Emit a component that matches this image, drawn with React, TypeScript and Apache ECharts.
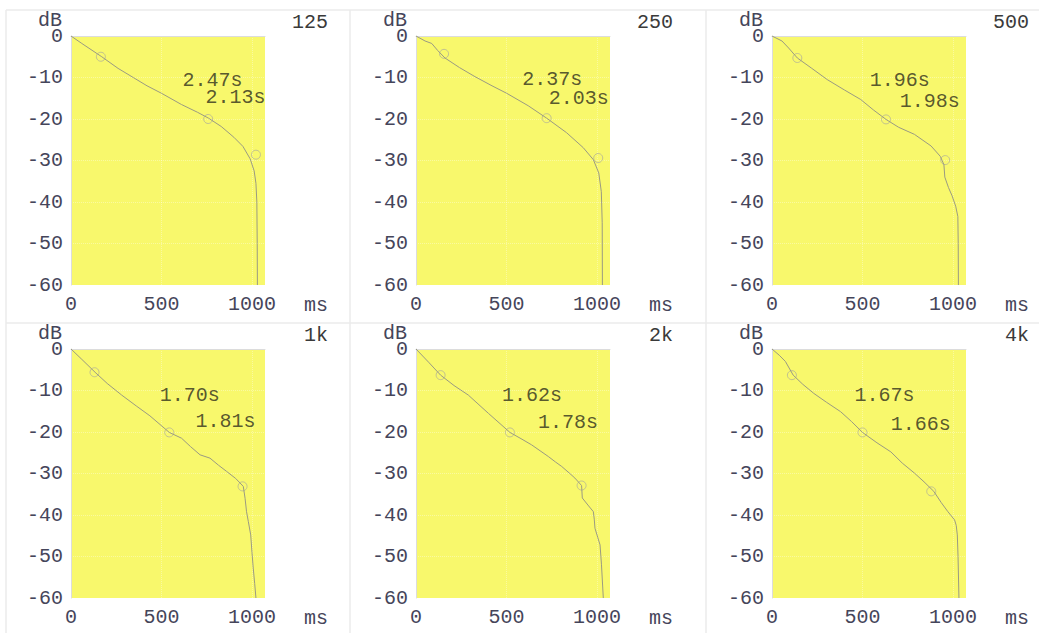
import React, { useEffect, useRef } from "react";
import * as echarts from "echarts";

const bandNames = ["125", "250", "500", "1k", "2k", "4k"];

const curve125 = [[0,0],[60,-1.8],[170,-5],[260,-7.8],[344,-10],[420,-12],[500,-13.8],[610,-16.5],[700,-18.4],[760,-19.8],[830,-21.8],[900,-24.4],[950,-26.6],[990,-29.6],[1012,-32.5],[1022,-35.5],[1027,-40],[1029,-50],[1030,-60]];
const curve250 = [[0,0],[50,-1.2],[87,-1.8],[120,-3.5],[160,-5.3],[240,-7.6],[326,-9.8],[420,-12],[501,-13.8],[620,-16.8],[722,-19.8],[832,-23.3],[924,-26.9],[980,-29.8],[1010,-33],[1024,-37.5],[1029,-45],[1030,-60]];
const curve500 = [[0,0],[55,-1.2],[92,-2.9],[140,-5.3],[220,-7.8],[305,-10.5],[400,-13],[490,-15.3],[560,-17.8],[630,-20.1],[700,-22],[787,-23.7],[879,-26.5],[930,-29],[950,-31],[955,-34],[975,-36.5],[995,-38.5],[1015,-41],[1027,-43.5],[1029,-50],[1030,-60]];
const curve1k = [[0,0],[60,-2.5],[133,-5.6],[200,-8.3],[280,-11.1],[360,-13.7],[436,-16.1],[543,-20.1],[611,-21.5],[660,-23.5],[713,-25.5],[768,-26.3],[815,-28],[860,-29.5],[910,-31.2],[952,-33.1],[962,-36],[970,-39.2],[980,-41.6],[993,-44.8],[1000,-49],[1007,-52.8],[1015,-56.5],[1022,-60]];
const curve2k = [[0,0],[70,-3.2],[136,-6.3],[210,-8.8],[289,-11.1],[400,-15.5],[519,-20.1],[580,-21.6],[639,-23.1],[731,-25.9],[770,-27.2],[805,-28.3],[850,-30],[878,-31.1],[915,-32.9],[919,-35.9],[950,-37.6],[980,-39.2],[985,-41],[989,-43.2],[1005,-45.5],[1017,-47.2],[1025,-52],[1035,-60]];
const curve4k = [[0,0],[40,-1.5],[74,-3],[117,-6.3],[170,-8.5],[231,-10.7],[300,-12.8],[379,-15.1],[440,-17.5],[500,-20.1],[580,-22.6],[657,-24.8],[720,-27.5],[787,-29.9],[840,-32],[894,-34.3],[935,-37],[972,-39.2],[1009,-41.2],[1018,-42.5],[1024,-44.8],[1028,-50],[1033,-60]];

const markers125 = [[165,-5],[758,-20],[1022,-28.6]];
const markers250 = [[155,-4.3],[722,-19.8],[1007,-29.4]];
const markers500 = [[140,-5.3],[630,-20.1],[957,-29.9]];
const markers1k = [[130,-5.6],[543,-20.1],[948,-33.1]];
const markers2k = [[136,-6.3],[519,-20.1],[915,-32.9]];
const markers4k = [[110,-6.3],[500,-20.1],[880,-34.3]];

// [text, ms, dB] anchors (left edge, vertical middle)
const labels125 = [["2.47s", 613, -10.7], ["2.13s", 740, -14.8]];
const labels250 = [["2.37s", 584, -10.6], ["2.03s", 731, -15.0]];
const labels500 = [["1.96s", 537, -10.7], ["1.98s", 703, -15.7]];
const labels1k = [["1.70s", 488, -11.2], ["1.81s", 685, -17.5]];
const labels2k = [["1.62s", 473, -11.3], ["1.78s", 672, -17.7]];
const labels4k = [["1.67s", 453, -11.3], ["1.66s", 653, -18.3]];

const xTicks = [0, 500, 1000];
const yMin = -60;
const yMax = 0;
const xMax = 1072;

const curves = [curve125, curve250, curve500, curve1k, curve2k, curve4k];
const markers = [markers125, markers250, markers500, markers1k, markers2k, markers4k];
const labels = [labels125, labels250, labels500, labels1k, labels2k, labels4k];

const FONT = "Liberation Mono";
const colLefts = [71, 416, 772];
const rowTops = [36, 349];
const plotW = 194;
const plotH = 249;

export default function App() {
  const ref = useRef<HTMLDivElement>(null);
  useEffect(() => {
    if (!ref.current) return;
    const chart = echarts.init(ref.current, null, { renderer: "svg" });
    const grid: any[] = [];
    const xAxis: any[] = [];
    const yAxis: any[] = [];
    const series: any[] = [];
    const graphic: any[] = [];

    // table separators
    const sepColor = "#ebebeb";
    graphic.push({ type: "line", shape: { x1: 6, y1: 10, x2: 1039, y2: 10 }, style: { stroke: sepColor, lineWidth: 1.5 } });
    graphic.push({ type: "line", shape: { x1: 6, y1: 323, x2: 1039, y2: 323 }, style: { stroke: sepColor, lineWidth: 1.5 } });
    [6, 350, 706].forEach((x) =>
      graphic.push({ type: "line", shape: { x1: x, y1: 10, x2: x, y2: 633 }, style: { stroke: sepColor, lineWidth: 1.5 } })
    );

    for (let i = 0; i < 6; i++) {
      const left = colLefts[i % 3];
      const top = rowTops[Math.floor(i / 3)];
      grid.push({
        left, top, width: plotW, height: plotH,
        show: true, backgroundColor: "#F8F86C", borderWidth: 0,
      });
      xAxis.push({
        type: "value", gridIndex: i, min: 0, max: xMax, interval: 500,
        axisLine: { show: true, lineStyle: { color: "#dcdcdc", width: 1 } },
        axisTick: { show: false },
        axisLabel: {
          margin: 9, fontFamily: FONT, fontSize: 20, color: "#45455a",
          showMaxLabel: false,
          formatter: (v: number) => (xTicks.indexOf(v) >= 0 ? String(v) : ""),
        },
        splitLine: { show: true, lineStyle: { color: "rgba(255,255,255,0.35)", type: "dotted", width: 1 } },
      });
      yAxis.push({
        type: "value", gridIndex: i, min: yMin, max: yMax, interval: 10,
        axisLine: { show: true, onZero: false, lineStyle: { color: "#dcdcdc", width: 1 } },
        axisTick: { show: false },
        axisLabel: { margin: 8, fontFamily: FONT, fontSize: 20, color: "#45455a" },
        splitLine: { show: true, lineStyle: { color: "rgba(255,255,255,0.35)", type: "dotted", width: 1 } },
      });
      series.push({
        type: "line", xAxisIndex: i, yAxisIndex: i, data: curves[i],
        showSymbol: false, symbol: "none", smooth: false,
        lineStyle: { color: "#9a9a82", width: 1 },
      });
      series.push({
        type: "scatter", xAxisIndex: i, yAxisIndex: i, data: markers[i],
        symbol: "circle", symbolSize: 9,
        itemStyle: { color: "rgba(0,0,0,0)", borderColor: "#b4b496", borderWidth: 1 },
      });
      series.push({
        type: "scatter", xAxisIndex: i, yAxisIndex: i,
        data: labels[i].map((l) => ({ name: l[0], value: [l[1], l[2]] })),
        symbolSize: 1, itemStyle: { color: "rgba(0,0,0,0)" },
        label: {
          show: true, position: "right", distance: 0, formatter: "{b}",
          fontFamily: FONT, fontSize: 20, color: "#2e2e1c",
        },
      });
      // axis names and band title
      graphic.push({
        type: "text", x: left - 21, y: top - 16,
        style: { text: "dB", font: `20px "${FONT}"`, fill: "#45455a", textAlign: "center", textVerticalAlign: "middle" },
      });
      graphic.push({
        type: "text", x: left + 257, y: top + plotH + 20,
        style: { text: "ms", font: `20px "${FONT}"`, fill: "#45455a", textAlign: "right", textVerticalAlign: "middle" },
      });
      graphic.push({
        type: "text", x: left + 257, y: top - 14,
        style: { text: bandNames[i], font: `20px "${FONT}"`, fill: "#3a3a3a", textAlign: "right", textVerticalAlign: "middle" },
      });
    }

    chart.setOption({
      animation: false,
      backgroundColor: "#ffffff",
      grid, xAxis, yAxis, series, graphic,
    });
    return () => chart.dispose();
  }, []);
  return (
    <div
      ref={ref}
      style={{ position: "absolute", left: 0, top: 0, width: 1039, height: 633 }}
    />
  );
}
